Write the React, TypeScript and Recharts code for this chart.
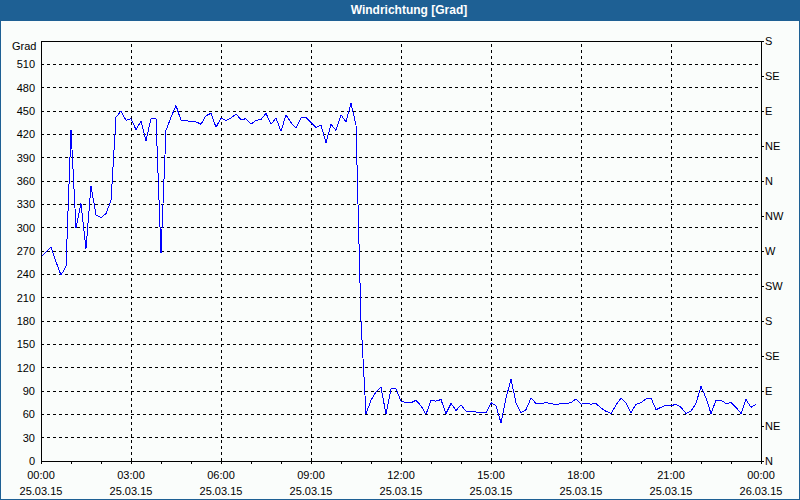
import React from 'react'
import { LineChart, Line, XAxis, YAxis, CartesianGrid, ReferenceLine } from 'recharts'

// Windrichtung in Grad, 10-Minuten-Werte, je Block 3 Stunden
const grad00 = [262, 269, 275, 256, 239, 250, 426, 300, 331, 273, 354, 316, 313, 318, 335, 442, 450, 438]
const grad03 = [440, 426, 437, 412, 440, 440, 267, 425, 442, 457, 438, 438, 436, 436, 433, 444, 447, 429]
const grad06 = [441, 438, 441, 446, 439, 440, 433, 438, 439, 447, 433, 441, 424, 445, 435, 428, 441, 442]
const grad09 = [435, 429, 432, 409, 433, 425, 445, 436, 460, 432, 180, 61, 78, 89, 95, 60, 93, 93]
const grad12 = [77, 75, 75, 78, 71, 60, 78, 77, 79, 61, 74, 65, 72, 64, 64, 63, 63, 62]
const grad15 = [75, 71, 49, 81, 105, 75, 62, 66, 81, 74, 74, 75, 74, 72, 74, 74, 75, 80]
const grad18 = [73, 74, 73, 74, 68, 64, 61, 72, 81, 75, 62, 73, 75, 80, 81, 66, 69, 72]
const grad21 = [71, 73, 69, 61, 64, 74, 96, 81, 61, 78, 78, 74, 75, 69, 61, 79, 69, 73]

const INTERVALL = 10 // Minuten

const zeitLabels = ['00:00', '03:00', '06:00', '09:00', '12:00', '15:00', '18:00', '21:00', '00:00']
const datumLabels = ['25.03.15', '25.03.15', '25.03.15', '25.03.15', '25.03.15', '25.03.15', '25.03.15', '25.03.15', '26.03.15']
const stundenTicks = [0, 60, 120, 180, 240, 300, 360, 420, 480, 540, 600, 660, 720, 780, 840, 900, 960, 1020, 1080, 1140, 1200, 1260, 1320, 1380, 1440]
const gitterZeiten = [180, 360, 540, 720, 900, 1080, 1260]

const gradTicks = [0, 30, 60, 90, 120, 150, 180, 210, 240, 270, 300, 330, 360, 390, 420, 450, 480, 510]
const richtungTicks = [0, 45, 90, 135, 180, 225, 270, 315, 360, 405, 450, 495, 540]
const richtungLabels = ['N', 'NE', 'E', 'SE', 'S', 'SW', 'W', 'NW', 'N', 'NE', 'E', 'SE', 'S']

const werte = [...grad00, ...grad03, ...grad06, ...grad09, ...grad12, ...grad15, ...grad18, ...grad21]
const data = werte.map((v, i) => ({ t: i * INTERVALL, v }))

const FONT = '"Liberation Sans", Arial, sans-serif'
const BLAU = '#1e6094'

function ZeitTick({ x, y, payload }: any) {
  const major = payload.value % 180 === 0
  const i = payload.value / 180
  return (
    <g>
      <line x1={x} y1={y} x2={x} y2={y + 3} stroke="#000" />
      {major && (
        <text x={x} y={y + 18} textAnchor="middle" fontSize={11} fontFamily={FONT} fill="#000">
          {zeitLabels[i]}
        </text>
      )}
      {major && (
        <text x={x} y={y + 34} textAnchor="middle" fontSize={11} fontFamily={FONT} fill="#000">
          {datumLabels[i]}
        </text>
      )}
    </g>
  )
}

function RichtungTick({ x, y, payload }: any) {
  const i = richtungTicks.indexOf(payload.value)
  return (
    <g>
      <line x1={x - 3} y1={y} x2={x - 1} y2={y} stroke="#000" />
      <text x={x} y={y} dy="0.355em" textAnchor="start" fontSize={11} fontFamily={FONT} fill="#000">
        {richtungLabels[i]}
      </text>
    </g>
  )
}

export default function App() {
  return (
    <div className="wind" style={{ position: 'absolute', left: 0, top: 0, width: 800, height: 500, background: '#fafdfb' }}>
      <style>{'.wind svg line, .wind svg path { shape-rendering: crispEdges; }'}</style>
      <LineChart width={800} height={500} data={data} margin={{ top: 41, right: 0, bottom: 0, left: 0 }}>
        <CartesianGrid vertical={false} stroke="#000" strokeDasharray="3 3" />
        {gitterZeiten.map((z) => (
          <ReferenceLine key={z} x={z} stroke="#000" strokeDasharray="3 3" />
        ))}
        <ReferenceLine y={540} stroke="#000" />
        <XAxis
          dataKey="t"
          type="number"
          domain={[0, 1440]}
          ticks={stundenTicks}
          interval={0}
          height={39}
          tickSize={0}
          tickMargin={0}
          tickLine={false}
          axisLine={{ stroke: '#000' }}
          tick={<ZeitTick />}
        />
        <YAxis
          type="number"
          domain={[0, 540]}
          ticks={gradTicks}
          interval={0}
          width={41}
          tickSize={0}
          tickMargin={6}
          tickLine={false}
          axisLine={{ stroke: '#000' }}
          tick={{ fontSize: 11, fontFamily: FONT, fill: '#000' }}
        />
        <YAxis
          yAxisId="r"
          orientation="right"
          type="number"
          domain={[0, 540]}
          ticks={richtungTicks}
          interval={0}
          width={39}
          tickSize={0}
          tickMargin={4}
          tickLine={false}
          axisLine={{ stroke: '#000' }}
          tick={<RichtungTick />}
        />
        <Line type="linear" dataKey="v" stroke="#0000ff" strokeWidth={1} dot={false} isAnimationActive={false} />
        <Line yAxisId="r" type="linear" dataKey="v" stroke="none" dot={false} activeDot={false} isAnimationActive={false} />
      </LineChart>
      <div
        style={{
          position: 'absolute', left: 0, top: 0, width: 800, height: 21, boxSizing: 'border-box', paddingLeft: 18,
          background: BLAU, color: '#fff', fontFamily: FONT, fontWeight: 'bold', fontSize: 12,
          lineHeight: '21px', textAlign: 'center',
        }}
      >
        Windrichtung [Grad]
      </div>
      <div style={{ position: 'absolute', left: 12, top: 40, fontFamily: FONT, fontSize: 11, color: '#000' }}>Grad</div>
      <div style={{ position: 'absolute', inset: 0, border: `1px solid ${BLAU}`, pointerEvents: 'none' }} />
    </div>
  )
}
